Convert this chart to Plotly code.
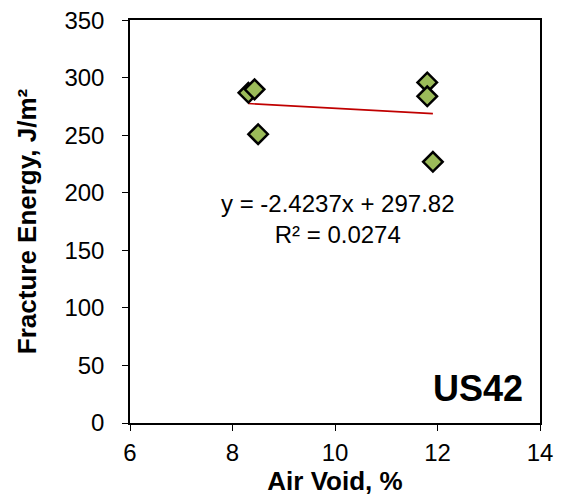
import plotly.graph_objects as go

air_void = [8.31, 8.43, 8.50, 11.80, 11.80, 11.91]
fracture_energy = [287, 290, 251, 296, 284, 227]
slope = -2.4237
intercept = 297.82
r2 = 0.0274
x_ticks = [6, 8, 10, 12, 14]
y_ticks = [0, 50, 100, 150, 200, 250, 300, 350]

fit_x = [min(air_void), max(air_void)]
fit_y = [slope * v + intercept for v in fit_x]

font_family = "Liberation Sans, Arial, sans-serif"

fig = go.Figure()
fig.add_trace(go.Scatter(x=fit_x, y=fit_y, mode="lines",
                         line=dict(color="#C00000", width=1.6), showlegend=False))
fig.add_trace(go.Scatter(x=air_void, y=fracture_energy, mode="markers",
                         marker=dict(symbol="diamond", size=15, color="#9BBB59",
                                     line=dict(color="black", width=2.5)),
                         showlegend=False))

fig.add_annotation(x=10.06, y=177, xref="x", yref="y",
                   text=f"y = {slope}x + {intercept}<br>R² = {r2}",
                   showarrow=False, font=dict(family=font_family, size=24, color="black"),
                   align="center")
fig.add_annotation(x=13.71, y=30, xref="x", yref="y", text="<b>US42</b>",
                   showarrow=False, xanchor="right",
                   font=dict(family=font_family, size=36, color="black"))

fig.update_layout(
    width=562, height=498,
    margin=dict(l=122, r=30, t=12, b=83, autoexpand=False),
    plot_bgcolor="white", paper_bgcolor="white",
    font=dict(family=font_family, size=24, color="black"),
)
fig.update_xaxes(range=[6, 14], tickvals=x_ticks, showgrid=False, zeroline=False,
                 showline=True, linecolor="black", linewidth=1.5, mirror=True,
                 ticks="outside", ticklen=6, tickcolor="black", ticklabelstandoff=1,
                 tickfont=dict(size=24), automargin=False, ticklabeloverflow="allow",
                 title=dict(text="<b>Air Void, %</b>", font=dict(size=26), standoff=6))
fig.update_yaxes(range=[0, 350.3], tickvals=y_ticks, showgrid=False, zeroline=False,
                 showline=True, linecolor="black", linewidth=1.5, mirror=True,
                 ticks="outside", ticklen=6, tickcolor="black", ticklabelstandoff=13,
                 tickfont=dict(size=24), automargin=False, ticklabeloverflow="allow",
                 title=dict(text="<b>Fracture Energy, J/m²</b>", font=dict(size=26), standoff=20))

fig.write_html("out.html")
